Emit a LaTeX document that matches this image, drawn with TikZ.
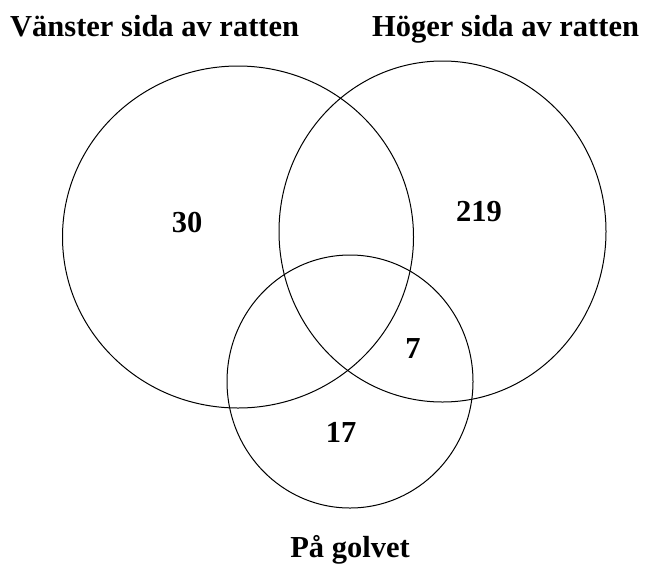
\documentclass[tikz,border=0pt]{standalone}
\usepackage{fontspec}
\setmainfont{Liberation Serif}
\usepackage{tikz}
\usetikzlibrary{positioning}

\begin{document}
\begin{tikzpicture}[x=1pt,y=-1pt,
  ring/.style={draw=black,line width=1pt},
  lbl/.style={font=\fontsize{30.5}{36}\selectfont\bfseries,inner sep=0pt},
  num/.style={font=\fontsize{30.5}{36}\selectfont\bfseries,inner sep=0pt}
]
\useasboundingbox (0,0) rectangle (652,563);
% the three sets
\coordinate (cl) at (238,237);
\coordinate (cr) at (442.5,231.5);
\coordinate (cb) at (350,381.5);
\draw[ring] (cl) ellipse [x radius=175.5,y radius=171];
\draw[ring] (cr) ellipse [x radius=163.5,y radius=170.5];
\draw[ring] (cb) ellipse [x radius=123,y radius=126.5];
% set names
\node[lbl,anchor=base west] (vanster) at (10,36) {Vänster sida av ratten};
\node[lbl,anchor=base west] (hoger) at (372,36) {Höger sida av ratten};
\node[lbl,anchor=base] (golv) at (350,557) {På golvet};
% counts
\node[num] (n30) at (187,222) {30};
\node[num] (n219) at (479,212) {219};
\node[num] (n7) at (413,349) {7};
\node[num] (n17) at (341,432) {17};
\end{tikzpicture}
\end{document}
